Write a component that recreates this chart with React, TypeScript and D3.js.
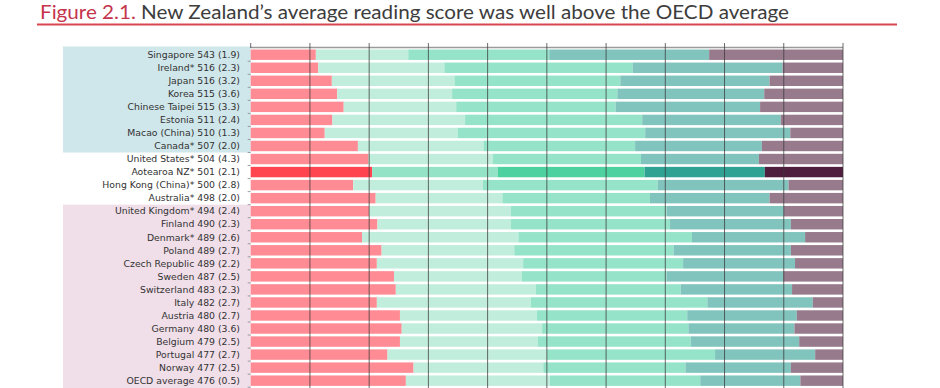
import React from "react";
import * as d3 from "d3";

const countries = [
  "Singapore 543 (1.9)",
  "Ireland* 516 (2.3)",
  "Japan 516 (3.2)",
  "Korea 515 (3.6)",
  "Chinese Taipei 515 (3.3)",
  "Estonia 511 (2.4)",
  "Macao (China) 510 (1.3)",
  "Canada* 507 (2.0)",
  "United States* 504 (4.3)",
  "Aotearoa NZ* 501 (2.1)",
  "Hong Kong (China)* 500 (2.8)",
  "Australia* 498 (2.0)",
  "United Kingdom* 494 (2.4)",
  "Finland 490 (2.3)",
  "Denmark* 489 (2.6)",
  "Poland 489 (2.7)",
  "Czech Republic 489 (2.2)",
  "Sweden 487 (2.5)",
  "Switzerland 483 (2.3)",
  "Italy 482 (2.7)",
  "Austria 480 (2.7)",
  "Germany 480 (3.6)",
  "Belgium 479 (2.5)",
  "Portugal 477 (2.7)",
  "Norway 477 (2.5)",
  "OECD average 476 (0.5)",
];

// comparison group relative to NZ
const groups = [
  "above", "above", "above", "above", "above", "above", "above", "above",
  "similar", "nz", "similar", "similar",
  "below", "below", "below", "below", "below", "below", "below", "below",
  "below", "below", "below", "below", "below", "below",
];

// percentage of students at each reading proficiency level
const belowLevel2 = [11.0, 11.4, 13.7, 14.6, 15.7, 13.8, 12.5, 18.1, 19.9, 20.5, 17.3, 21.1, 20.0, 21.4, 18.8, 22.1, 21.3, 24.2, 24.5, 21.3, 25.2, 25.5, 25.2, 23.1, 27.5, 26.2];
const level2 = [15.6, 21.3, 20.7, 19.4, 19.0, 22.4, 22.5, 21.2, 21.0, 21.2, 21.9, 21.4, 23.9, 22.5, 26.4, 22.4, 24.7, 21.6, 23.6, 26.0, 23.1, 23.7, 23.3, 26.9, 21.9, 24.3];
const level3 = [23.8, 31.8, 28.0, 27.9, 26.9, 29.9, 31.6, 25.6, 25.0, 24.8, 29.5, 24.9, 26.3, 26.9, 29.3, 26.9, 27.0, 24.4, 24.5, 29.8, 25.4, 24.7, 25.8, 28.4, 24.0, 25.4];
const level4 = [27.0, 25.3, 25.2, 24.8, 24.4, 23.4, 24.5, 21.4, 19.9, 20.3, 22.1, 20.2, 19.8, 20.4, 19.1, 19.8, 18.9, 19.7, 18.8, 17.8, 18.5, 17.9, 18.3, 16.9, 17.8, 16.9];
const level5plus = [22.6, 10.2, 12.4, 13.3, 14.0, 10.5, 8.9, 13.7, 14.2, 13.2, 9.2, 12.4, 10.0, 8.8, 6.4, 8.8, 8.1, 10.1, 8.6, 5.1, 7.8, 8.2, 7.4, 4.7, 8.8, 7.2];

const levelKeys = ["belowLevel2", "level2", "level3", "level4", "level5plus"];
const colors = ["#ff8c94", "#c1eedc", "#95e3c8", "#81c4bd", "#977a8c"];
const nzColors = ["#ff4650", "#95e3c7", "#4dd29f", "#2fa294", "#4f1e3f"];

const xTicks = [0, 10, 20, 30, 40, 50, 60, 70, 80, 90, 100];

const titleRed = "Figure 2.1.";
const titleRest = " New Zealand\u2019s average reading score was well above the OECD average";

export default function App() {
  const rows = countries.map((c, i) => ({
    country: c,
    group: groups[i],
    belowLevel2: belowLevel2[i],
    level2: level2[i],
    level3: level3[i],
    level4: level4[i],
    level5plus: level5plus[i],
  }));

  const x = d3.scaleLinear().domain([0, 100]).range([250.7, 843]);
  const y = d3.scaleBand<string>().domain(countries).range([48.2, 387.2]).paddingInner(0.2).paddingOuter(0.1);
  const step = y.step();
  const stack = d3.stack<any>().keys(levelKeys);
  const series = stack(rows);

  const bandTop = (c: string) => (y(c) as number) - y.paddingInner() * step / 2;

  const groupRect = (g: string, fill: string) => {
    const idx = groups.map((gg, i) => (gg === g ? i : -1)).filter((i) => i >= 0);
    if (!idx.length) return null;
    const y0 = bandTop(countries[idx[0]]);
    const y1 = bandTop(countries[idx[idx.length - 1]]) + step;
    return <rect x={63} y={g === "above" ? 46.5 : y0} width={x(0) - 63} height={y1 - (g === "above" ? 46.5 : y0) + (g === "below" ? 10 : 0)} fill={fill} />;
  };

  return (
    <svg width={940} height={388} style={{ position: "absolute", left: 0, top: 0, background: "#fff" }}>
      <text x={40} y={18.5} fontFamily="Lato, 'Open Sans', sans-serif" fontSize={19.5} textLength={749} lengthAdjust="spacingAndGlyphs">
        <tspan fill="#c5344c">{titleRed}</tspan>
        <tspan fill="#3d3d3d">{titleRest}</tspan>
      </text>
      <line x1={37} x2={897} y1={24.5} y2={24.5} stroke="#d9464f" strokeWidth={2} />

      {groupRect("above", "#cfe6ea")}
      {groupRect("below", "#f0dee9")}

      {series.map((s, si) => (
        <g key={si}>
          {s.map((d: any, i: number) => (
            <rect
              key={i}
              x={x(d[0])}
              y={y(countries[i])}
              width={x(d[1]) - x(d[0])}
              height={y.bandwidth()}
              fill={groups[i] === "nz" ? nzColors[si] : colors[si]}
            />
          ))}
        </g>
      ))}

      <line x1={x(0)} x2={x(100)} y1={47.5} y2={47.5} stroke="#9a9a9a" strokeWidth={1.6} />
      {xTicks.map((t) => (
        <line key={t} x1={x(t)} x2={x(t)} y1={43} y2={t === 0 ? 48 : 388} stroke="#3a3a3a" strokeOpacity={0.75} strokeWidth={1} />
      ))}
      {countries.map((c, i) => (
        <line key={"lt" + i} x1={x(0) - 3} x2={x(0)} y1={bandTop(c) + step} y2={bandTop(c) + step} stroke="#888" strokeWidth={0.8} />
      ))}

      {countries.map((c) => (
        <text
          key={"lab" + c}
          x={240}
          y={(y(c) as number) + y.bandwidth() / 2}
          dy="0.35em"
          textAnchor="end"
          fontFamily="'DejaVu Sans', Verdana, sans-serif"
          fontSize={9.3}
          fill="#333"
        >
          {c}
        </text>
      ))}
    </svg>
  );
}
